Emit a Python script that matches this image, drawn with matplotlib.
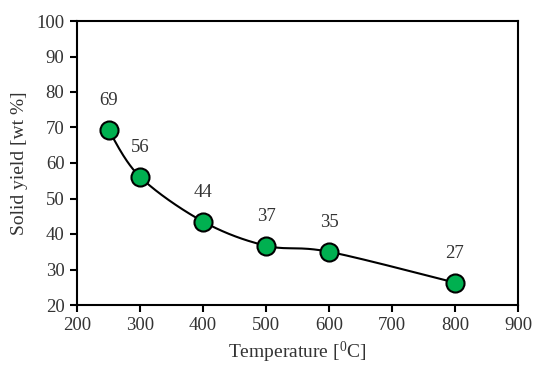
import numpy as np
import matplotlib.pyplot as plt

plt.rcParams['font.family'] = ['Liberation Serif', 'DejaVu Serif']
plt.rcParams['mathtext.default'] = 'regular'

# data
temperature = [250, 300, 400, 500, 600, 800]
solid_yield = [69.3, 56.1, 43.5, 36.7, 35.0, 26.3]
point_labels = ['69', '56', '44', '37', '35', '27']
x_ticks = [200, 300, 400, 500, 600, 700, 800, 900]
y_ticks = [20, 30, 40, 50, 60, 70, 80, 90, 100]


def smooth_curve(xs, ys, n=40):
    # Excel-like smoothing: Catmull-Rom style cubic Bezier segments
    xs = np.asarray(xs, float)
    ys = np.asarray(ys, float)
    px = np.concatenate([[xs[0]], xs, [xs[-1]]])
    py = np.concatenate([[ys[0]], ys, [ys[-1]]])
    out_x, out_y = [], []
    t = np.linspace(0, 1, n)
    for i in range(1, len(px) - 2):
        p0 = np.array([px[i], py[i]])
        p3 = np.array([px[i + 1], py[i + 1]])
        c1 = p0 + (np.array([px[i + 1], py[i + 1]]) - np.array([px[i - 1], py[i - 1]])) / 6
        c2 = p3 - (np.array([px[i + 2], py[i + 2]]) - np.array([px[i], py[i]])) / 6
        b = ((1 - t) ** 3)[:, None] * p0 + (3 * (1 - t) ** 2 * t)[:, None] * c1 \
            + (3 * (1 - t) * t ** 2)[:, None] * c2 + (t ** 3)[:, None] * p3
        out_x.extend(b[:, 0])
        out_y.extend(b[:, 1])
    return out_x, out_y


fig = plt.figure(figsize=(5.34, 3.69), dpi=100)
ax = fig.add_axes([77 / 534, 1 - 305 / 369, 441 / 534, 284 / 369])

sx, sy = smooth_curve(temperature, solid_yield)
ax.plot(sx, sy, color='black', linewidth=1.5, zorder=2)
ax.plot(temperature, solid_yield, 'o', markersize=13, markerfacecolor='#00B050',
        markeredgecolor='black', markeredgewidth=1.5, zorder=3)

for x, y, lab in zip(temperature, solid_yield, point_labels):
    ax.annotate(lab, (x, y), xytext=(0, 21), textcoords='offset points',
                ha='center', va='center', fontsize=13.5, color='#333333')

ax.set_xlim(200, 900)
ax.set_ylim(20, 100)
ax.set_xticks(x_ticks)
ax.set_yticks(y_ticks)
ax.tick_params(direction='out', length=5, width=1.5, labelsize=13.5,
               labelcolor='#333333', pad=4)
for s in ax.spines.values():
    s.set_linewidth(1.5)

ax.set_xlabel('Temperature [$^0$C]', fontsize=14, color='#333333', labelpad=4)
ax.set_ylabel('Solid yield [wt %]', fontsize=14, color='#333333', labelpad=6)

fig.savefig('out.png', dpi=100)
